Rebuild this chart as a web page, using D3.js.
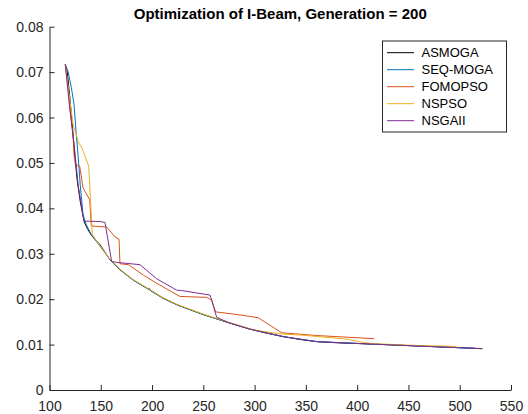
<!DOCTYPE html>
<html>
<head>
<meta charset="utf-8">
<script src="https://cdn.jsdelivr.net/npm/d3@7"></script>
<style>
  body { margin: 0; background: #fff; }
  svg { display: block; font-family: "Liberation Sans", Arial, sans-serif; }
  .axis text { font-size: 14px; fill: #262626; }
  .axis path, .axis line { stroke: #262626; }
</style>
</head>
<body>
<div id="chart"></div>
<script>
// data
const asmogaX = [115.4, 117.4, 120, 122.6, 124.5, 127, 130, 133.6, 137, 141, 149.2, 159, 168.7, 181.7, 198, 211, 225, 250, 275, 295.5, 310, 328, 345, 360.5, 380, 416, 458, 490, 522];
const asmogaY = [.0717, .0699, .0640, .0573, .0520, .0462, .0415, .0372, .0355, .0340, .0320, .0287, .0265, .0242, .0220, .0202, .0187, .0166, .0148, .0134, .0126, .01175, .0111, .01065, .0104, .0101, .0097, .0094, .0091];

const seqX = [115.4, 118, 121.3, 123.9, 126.1, 127.8, 130, 132.7, 135.9, 140.8, 150.5, 159, 168.7, 181.7, 196, 197.5, 199, 211, 225, 250, 275, 295.5, 328, 360.5, 416, 458, 515];
const seqY = [.0717, .0702, .0666, .0629, .0563, .0519, .0450, .0386, .0364, .0342, .0313, .0287, .0265, .0242, .0223, .0224, .0218, .0202, .0187, .0166, .0148, .0134, .01175, .01065, .0101, .0097, .0092];

const fomopsoX = [115.4, 118, 120.5, 122.9, 123.9, 125.2, 129.4, 132.7, 139.2, 140.8, 155.8, 163.9, 167.8, 168.7, 176.9, 191.5, 204.5, 227.2, 253.3, 258, 262, 280, 295.5, 303.6, 326.4, 360, 416.7];
const fomopsoY = [.0717, .0670, .0610, .0563, .0519, .0497, .0493, .0445, .0419, .0361, .0359, .0337, .0332, .0278, .0276, .0253, .0235, .0206, .0204, .0198, .0172, .0167, .0162, .0159, .0126, .0120, .0113];

const nspsoX = [115.4, 118.5, 122.9, 128.5, 131.7, 138.2, 141.8, 150, 159, 168.7, 181.7, 198, 211, 225, 250, 275, 295.5, 302, 328, 345, 389.8, 407.6, 416, 458, 497];
const nspsoY = [.0717, .0660, .0585, .0544, .0533, .0493, .0342, .0315, .0288, .0266, .0243, .0221, .0203, .0188, .0167, .0149, .0135, .0131, .0123, .0121, .0112, .0104, .0102, .0098, .0096];

const nsgaX = [115.4, 119.7, 124, 128, 133.6, 149.2, 154.1, 160.6, 165.5, 188.2, 204.5, 224, 228.9, 256.5, 258.2, 263, 275, 295.5, 328, 360.5, 416, 458, 522];
const nsgaY = [.0717, .0621, .0540, .0450, .0372, .0371, .0369, .0283, .0281, .0276, .0245, .0220, .0219, .0209, .0198, .0160, .0148, .0134, .01175, .01065, .0101, .0097, .0091];

const names = ["ASMOGA", "SEQ-MOGA", "FOMOPSO", "NSPSO", "NSGAII"];
const colors = ["#000000", "#0072BD", "#D95319", "#EDB120", "#7E2F8E"];
const xTicks = [100, 150, 200, 250, 300, 350, 400, 450, 500, 550];
const yTicks = [0, 0.01, 0.02, 0.03, 0.04, 0.05, 0.06, 0.07, 0.08];

const series = [
  d3.zip(asmogaX, asmogaY),
  d3.zip(seqX, seqY),
  d3.zip(fomopsoX, fomopsoY),
  d3.zip(nspsoX, nspsoY),
  d3.zip(nsgaX, nsgaY)
];

const W = 528, H = 414;
const margin = { top: 26.7, right: 17, bottom: 24, left: 49.5 };
const width = W - margin.left - margin.right,
  height = H - margin.top - margin.bottom;

const x = d3.scaleLinear().domain([100, 550]).range([0, width]);
const y = d3.scaleLinear().domain([0, 0.08]).range([height, 0]);

const svg = d3.select("#chart").append("svg")
  .attr("width", W)
  .attr("height", H);

const g = svg.append("g")
  .attr("transform", "translate(" + margin.left + "," + margin.top + ")");

// lines
const line = d3.line()
  .x((d) => x(d[0]))
  .y((d) => y(d[1]));

g.selectAll(".series")
  .data(series)
  .enter()
  .append("path")
  .attr("class", "series")
  .attr("d", line)
  .attr("fill", "none")
  .attr("stroke", (d, i) => colors[i])
  .attr("stroke-width", 1)
  .attr("stroke-linejoin", "round");

// axes, ticks pointing inwards like matlab
g.append("g")
  .attr("class", "axis")
  .attr("transform", "translate(0," + height + ")")
  .call(d3.axisBottom(x).tickValues(xTicks).tickSizeInner(-5).tickSizeOuter(0).tickPadding(11));

g.append("g")
  .attr("class", "axis")
  .call(d3.axisLeft(y).tickValues(yTicks).tickSizeInner(-5).tickSizeOuter(0).tickPadding(6)
    .tickFormat((d) => d === 0 ? "0" : d3.format(".2f")(d)));

// title
svg.append("text")
  .attr("x", margin.left + width / 2)
  .attr("y", 19)
  .attr("text-anchor", "middle")
  .style("font-size", "15px")
  .style("font-weight", "bold")
  .attr("fill", "#000")
  .text("Optimization of I-Beam, Generation = 200");

// legend
const lg = svg.append("g").attr("transform", "translate(382.5,41)");
lg.append("rect")
  .attr("width", 124)
  .attr("height", 91)
  .attr("fill", "#fff")
  .attr("stroke", "#262626")
  .attr("stroke-width", 1);

const item = lg.selectAll(".item")
  .data(names)
  .enter()
  .append("g")
  .attr("class", "item")
  .attr("transform", (d, i) => "translate(0," + (11.7 + i * 17) + ")");

item.append("line")
  .attr("x1", 4.5)
  .attr("x2", 31.5)
  .attr("stroke", (d, i) => colors[i])
  .attr("stroke-width", 1);

item.append("text")
  .attr("x", 39)
  .attr("dy", "0.35em")
  .style("font-size", "13px")
  .attr("fill", "#000")
  .text((d) => d);
</script>
</body>
</html>
